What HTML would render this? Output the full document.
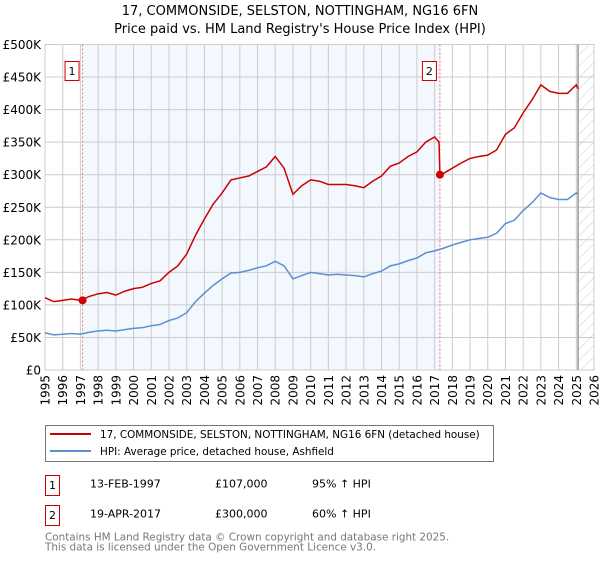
<!DOCTYPE html>
<html><head><meta charset="utf-8"><style>
body{margin:0;background:#fff;width:600px;height:560px;overflow:hidden}
svg{font-family:"DejaVu Sans","Liberation Sans",sans-serif}
</style></head><body>
<svg id="c" width="600" height="560" xmlns="http://www.w3.org/2000/svg">
<defs><pattern id="h" width="8" height="8" patternUnits="userSpaceOnUse" patternTransform="rotate(45)"><line x1="0" y1="0" x2="0" y2="8" stroke="#ccc" stroke-width="1"/></pattern></defs>
<text x="300" y="15" text-anchor="middle" font-size="13">17, COMMONSIDE, SELSTON, NOTTINGHAM, NG16 6FN</text>
<text x="300" y="33" text-anchor="middle" font-size="13">Price paid vs. HM Land Registry's House Price Index (HPI)</text>
<g id="plot"></g>
<g>
<rect x="45.5" y="425.5" width="448" height="36" fill="#fff" stroke="#777"/>
<line x1="50" y1="434" x2="91" y2="434" stroke="#cc0000" stroke-width="2"/>
<text x="100" y="438" font-size="10.4">17, COMMONSIDE, SELSTON, NOTTINGHAM, NG16 6FN (detached house)</text>
<line x1="50" y1="451" x2="91" y2="451" stroke="#5b8fd0" stroke-width="2"/>
<text x="100" y="455" font-size="10.4">HPI: Average price, detached house, Ashfield</text>
</g>
<g font-size="11">
<rect x="45.5" y="475.5" width="14" height="20" fill="#fff" stroke="#cc0000"/>
<text x="52.5" y="489" text-anchor="middle">1</text>
<text x="90" y="487.5">13-FEB-1997</text><text x="215" y="487.5">£107,000</text><text x="312" y="487.5">95% ↑ HPI</text>
<rect x="45.5" y="505.5" width="14" height="20" fill="#fff" stroke="#cc0000"/>
<text x="52.5" y="519" text-anchor="middle">2</text>
<text x="90" y="517.5">19-APR-2017</text><text x="215" y="517.5">£300,000</text><text x="312" y="517.5">60% ↑ HPI</text>
</g>
<text x="45" y="540.5" font-size="10.4" fill="#777">Contains HM Land Registry data © Crown copyright and database right 2025.</text>
<text x="45" y="550.5" font-size="10.4" fill="#777">This data is licensed under the Open Government Licence v3.0.</text>
</svg>
<script>
const hpiYears=[1995,1995.5,1996,1996.5,1997,1997.5,1998,1998.5,1999,1999.5,2000,2000.5,2001,2001.5,2002,2002.5,2003,2003.5,2004,2004.5,2005,2005.5,2006,2006.5,2007,2007.5,2008,2008.5,2009,2009.5,2010,2010.5,2011,2011.5,2012,2012.5,2013,2013.5,2014,2014.5,2015,2015.5,2016,2016.5,2017,2017.5,2018,2018.5,2019,2019.5,2020,2020.5,2021,2021.5,2022,2022.5,2023,2023.5,2024,2024.5,2025,2025.1];
const hpiValues=[57,54,55,56,55,58,60,61,60,62,64,65,68,70,76,80,88,105,118,130,140,149,150,153,157,160,167,160,140,145,150,148,146,147,146,145,143,148,152,160,163,168,172,180,183,187,192,196,200,202,204,210,225,230,245,257,272,265,262,262,272,270];
const propYears=[1995,1995.5,1996,1996.5,1997,1997.5,1998,1998.5,1999,1999.5,2000,2000.5,2001,2001.5,2002,2002.5,2003,2003.5,2004,2004.5,2005,2005.5,2006,2006.5,2007,2007.5,2008,2008.5,2009,2009.5,2010,2010.5,2011,2011.5,2012,2012.5,2013,2013.5,2014,2014.5,2015,2015.5,2016,2016.5,2017,2017.25,2017.3,2017.5,2018,2018.5,2019,2019.5,2020,2020.5,2021,2021.5,2022,2022.5,2023,2023.5,2024,2024.5,2025,2025.1];
const propValues=[111,105,107,109,107,113,117,119,115,121,125,127,133,137,150,160,178,207,232,255,272,292,295,298,305,312,328,310,270,283,292,290,285,285,285,283,280,290,298,313,318,328,335,350,358,350,300,302,310,318,325,328,330,338,362,372,395,415,438,428,425,425,438,432];
const saleYears=[1997.12,2017.3];
const saleValues=[107,300];
const saleLabels=["1","2"];
const yTicks=[0,50,100,150,200,250,300,350,400,450,500];
const yTickLabels=["£0","£50K","£100K","£150K","£200K","£250K","£300K","£350K","£400K","£450K","£500K"];
const xTicks=[1995,1996,1997,1998,1999,2000,2001,2002,2003,2004,2005,2006,2007,2008,2009,2010,2011,2012,2013,2014,2015,2016,2017,2018,2019,2020,2021,2022,2023,2024,2025,2026];
const X0=45,X1=594,Y0=370,Y1=44.5;
const x=v=>X0+(v-1995)/31*(X1-X0);
const y=v=>Y0-v/500*(Y0-Y1);
const NS="http://www.w3.org/2000/svg";
const g=document.getElementById('plot');
function mk(t,a){const e=document.createElementNS(NS,t);for(const k in a)e.setAttribute(k,a[k]);g.appendChild(e);return e;}
let e=mk('rect',{x:x(saleYears[0]),y:Y1,width:x(saleYears[1])-x(saleYears[0]),height:Y0-Y1,fill:'#f3f7fe'});


e=mk('rect',{x:x(2025.1),y:Y1,width:X1-x(2025.1),height:Y0-Y1,fill:'url(#h)'});


yTicks.forEach((t,i)=>{
 e=mk('line',{x1:X0,x2:X1,y1:y(t),y2:y(t),stroke:'#ccc'});
 
 
 e=mk('text',{x:41,y:y(t)+4.5,'text-anchor':'end','font-size':'12'});e.textContent=yTickLabels[i];
 
 
});
xTicks.forEach(t=>{
 e=mk('line',{x1:x(t),x2:x(t),y1:Y1,y2:Y0,stroke:'#ccc'});
 
 
 e=mk('text',{x:0,y:0,'text-anchor':'end','font-size':'12',transform:`translate(${x(t)+4.5},${Y0+5}) rotate(-90)`});e.textContent=t;
 
 
});
e=mk('rect',{x:X0,y:Y1,width:X1-X0,height:Y0-Y1,fill:'none',stroke:'#ccc'});


e=mk('line',{x1:x(2025.1),x2:x(2025.1),y1:Y1,y2:Y0,stroke:'#999','stroke-width':1.5});


saleYears.forEach((s,i)=>{
 e=mk('line',{x1:x(s),x2:x(s),y1:Y1,y2:Y0,stroke:'#e77','stroke-dasharray':'2,2'});
 
 
 e=mk('rect',{x:x(s)-17.5,y:61.5,width:14,height:19,fill:'#fff',stroke:'#cc0000'});
 
 
 e=mk('text',{x:x(s)-10.5,y:75,'text-anchor':'middle','font-size':'11'});e.textContent=saleLabels[i];
 
 
});
e=mk('polyline',{points:hpiYears.map((v,i)=>x(v)+','+y(hpiValues[i])).join(' '),fill:'none',stroke:'#5b8fd0','stroke-width':1.5});


e=mk('polyline',{points:propYears.map((v,i)=>x(v)+','+y(propValues[i])).join(' '),fill:'none',stroke:'#cc0000','stroke-width':1.5});


saleYears.forEach((s,i)=>{
 e=mk('circle',{cx:x(s),cy:y(saleValues[i]),r:4,fill:'#cc0000'});
 
 
});
</script>
</body></html>
